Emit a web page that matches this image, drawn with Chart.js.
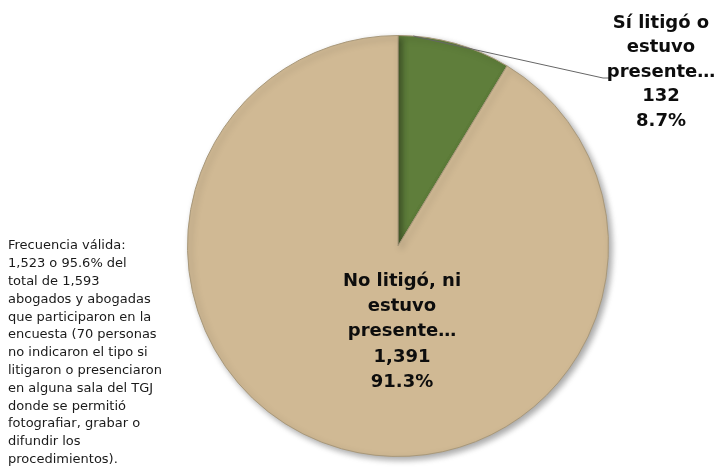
<!DOCTYPE html>
<html>
<head>
<meta charset="utf-8">
<script src="https://cdn.jsdelivr.net/npm/chart.js@4"></script>
<style>
html,body{margin:0;padding:0;background:#fff;}
#wrap{width:718px;height:472px;position:relative;}
</style>
</head>
<body>
<div id="wrap"><canvas id="c" width="718" height="472"></canvas></div>
<script>
const labels=[['Sí litigó o','estuvo','presente…'],['No litigó, ni','estuvo','presente…']];
const counts=[132,1391];
const percents=['8.7%','91.3%'];
const colors=['#5f7e3b','#d0b994'];
const note=['Frecuencia válida:','1,523 o 95.6% del','total de 1,593','abogados y abogadas','que participaron en la','encuesta (70 personas','no indicaron el tipo si','litigaron o presenciaron','en alguna sala del TGJ','donde se permitió','fotografiar, grabar o','difundir los','procedimientos).'];

const FONT='"DejaVu Sans", sans-serif';

const shadowPlugin={
  id:'pieShadow',
  beforeDatasetsDraw(chart){
    const ctx=chart.ctx;
    ctx.save();
    ctx.shadowColor='rgba(0,0,0,0.35)';
    ctx.shadowBlur=6;
    ctx.shadowOffsetX=3;
    ctx.shadowOffsetY=3;
  },
  afterDatasetsDraw(chart){
    chart.ctx.restore();
  }
};

const labelPlugin={
  id:'pieLabels',
  afterDraw(chart){
    const ctx=chart.ctx;
    const arcs=chart.getDatasetMeta(0).data;
    ctx.save();
    ctx.fillStyle='#0d0d0d';
    ctx.textAlign='center';
    ctx.textBaseline='middle';
    ctx.font='bold 18px '+FONT;
    // leader line from the small slice
    const a=arcs[0];
    const mid=(a.startAngle+a.endAngle)/2-0.2;
    const px=a.x+Math.cos(mid)*a.outerRadius;
    const py=a.y+Math.sin(mid)*a.outerRadius;
    ctx.strokeStyle='#666';
    ctx.lineWidth=1;
    ctx.beginPath();
    ctx.moveTo(px,py);
    ctx.lineTo(603,78);
    ctx.lineTo(611,78);
    ctx.stroke();
    const l0=[...labels[0],counts[0].toLocaleString('en-US'),percents[0]];
    l0.forEach((t,i)=>ctx.fillText(t,661,23+i*24.5));
    const l1=[...labels[1],counts[1].toLocaleString('en-US'),percents[1]];
    l1.forEach((t,i)=>ctx.fillText(t,402,281+i*25.3));
    // side note
    ctx.textAlign='left';
    ctx.fillStyle='#1a1a1a';
    ctx.font='13px '+FONT;
    note.forEach((t,i)=>ctx.fillText(t,8,246+i*17.8));
    ctx.restore();
  }
};

new Chart(document.getElementById('c').getContext('2d'),{
  type:'pie',
  data:{
    labels:labels.map(l=>l.join(' ')),
    datasets:[{data:counts,backgroundColor:colors,borderColor:'#a8987a',borderWidth:1}]
  },
  options:{
    responsive:false,
    animation:false,
    layout:{padding:{top:35,bottom:15,left:187,right:109}},
    plugins:{legend:{display:false},tooltip:{enabled:false}}
  },
  plugins:[shadowPlugin,labelPlugin]
});
</script>
</body>
</html>
